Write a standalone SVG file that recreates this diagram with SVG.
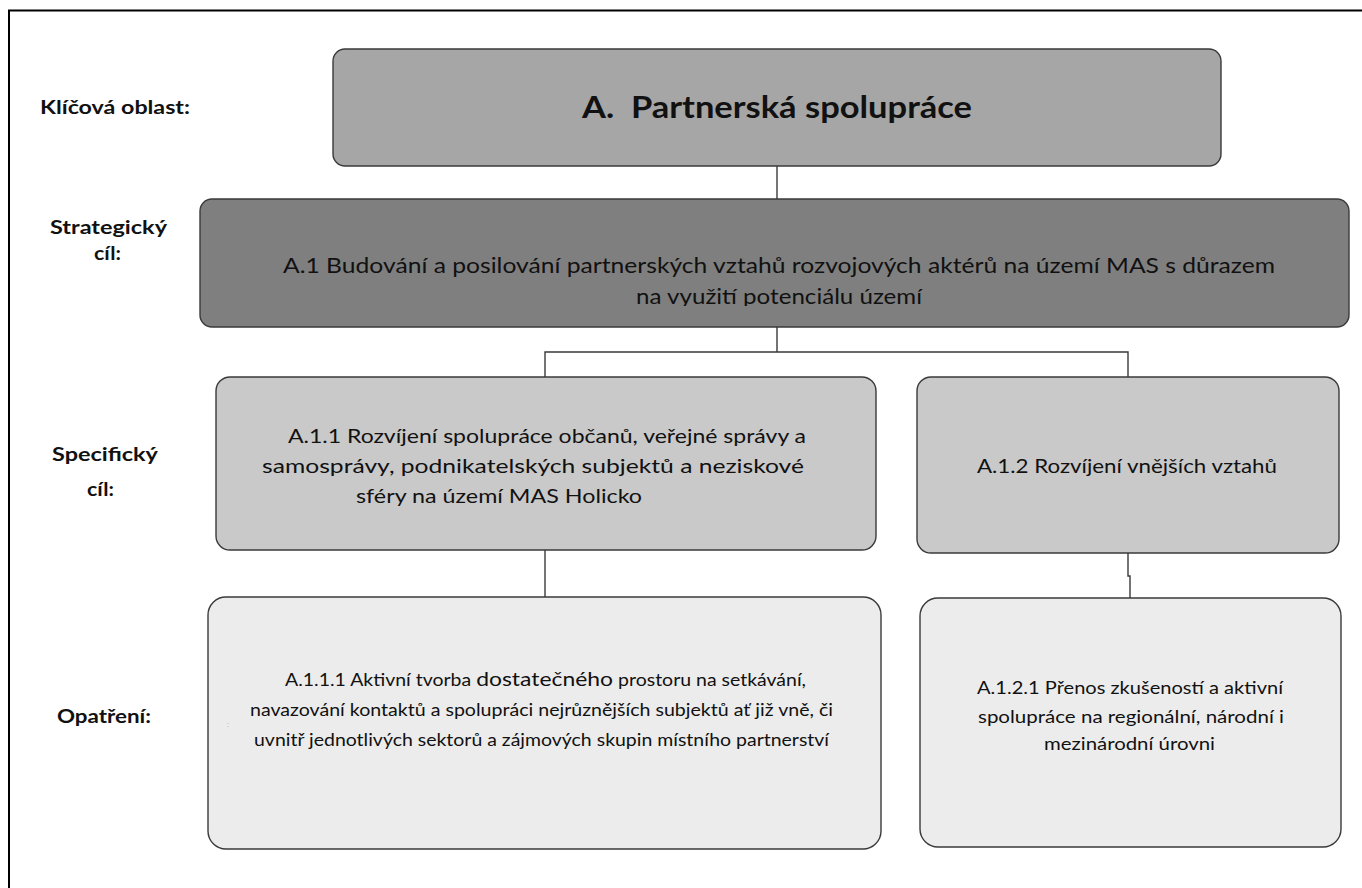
<svg xmlns="http://www.w3.org/2000/svg" width="1362" height="888" viewBox="0 0 1362 888">
<style>
.box{stroke:#3a3a3a;stroke-width:1.4}
.l1{fill:#a6a6a6}.l2{fill:#7f7f7f}.l3{fill:#c9c9c9}.l4{fill:#ececec}
text{font-family:Lato,"Open Sans","Liberation Sans",sans-serif;fill:#111}
.lab{font-weight:bold;font-size:19px}
.conn{fill:none;stroke:#3a3a3a;stroke-width:1.4}
</style>
<defs><clipPath id="clipA1"><rect x="200" y="199" width="1150" height="107"/></clipPath></defs>
<rect x="9" y="10.5" width="1400" height="1000" fill="#fff" stroke="#000" stroke-width="2"/>
<g id="labels">
<text class="lab" x="40" y="114" textLength="150" lengthAdjust="spacingAndGlyphs">Klíčová oblast:</text>
<text class="lab" x="50" y="234" textLength="117" lengthAdjust="spacingAndGlyphs">Strategický</text>
<text class="lab" x="94" y="260" textLength="27" lengthAdjust="spacingAndGlyphs">cíl:</text>
<text class="lab" x="52" y="461" textLength="106" lengthAdjust="spacingAndGlyphs">Specifický</text>
<text class="lab" x="87" y="496" textLength="27" lengthAdjust="spacingAndGlyphs">cíl:</text>
<text class="lab" x="57" y="723" textLength="94" lengthAdjust="spacingAndGlyphs">Opatření:</text>
</g>
<g id="connectors">
<path class="conn" d="M777 166V199"/>
<path class="conn" d="M777 327V352M545 377V352H1128V377"/>
<path class="conn" d="M545 550V597"/>
<path class="conn" d="M1128 553V576H1130V598"/>
</g>
<g id="nodeA">
<rect class="box l1" x="333" y="49" width="888" height="117" rx="12"/>
<text x="582" y="118" style="font-size:31px;font-weight:bold" textLength="390" lengthAdjust="spacingAndGlyphs" xml:space="preserve">A.  Partnerská spolupráce</text>
</g>
<g id="nodeA1">
<rect class="box l2" x="200" y="199" width="1149" height="128" rx="12"/>
<g clip-path="url(#clipA1)" style="font-size:22px">
<text x="283" y="273" fill="#1a1a1a" textLength="992" lengthAdjust="spacingAndGlyphs">A.1 Budování a posilování partnerských vztahů rozvojových aktérů na území MAS s důrazem</text>
<text x="636" y="304" fill="#1a1a1a" textLength="286" lengthAdjust="spacingAndGlyphs">na využití potenciálu území</text>
</g>
</g>
<g id="nodeA11">
<rect class="box l3" x="216" y="377" width="660" height="173" rx="14"/>
<g style="font-size:20px">
<text x="288" y="443" textLength="518" lengthAdjust="spacingAndGlyphs">A.1.1 Rozvíjení spolupráce občanů, veřejné správy a</text>
<text x="262" y="473" textLength="542" lengthAdjust="spacingAndGlyphs">samosprávy, podnikatelských subjektů a neziskové</text>
<text x="356" y="503" textLength="286" lengthAdjust="spacingAndGlyphs">sféry na území MAS Holicko</text>
</g>
</g>
<g id="nodeA12">
<rect class="box l3" x="917" y="377" width="422" height="176" rx="14"/>
<text x="977" y="473" style="font-size:20px" textLength="300" lengthAdjust="spacingAndGlyphs">A.1.2 Rozvíjení vnějších vztahů</text>
</g>
<g id="nodeA111">
<rect class="box l4" x="208" y="597" width="673" height="252" rx="18"/>
<g style="font-size:17px">
<text x="285" y="686" textLength="521" lengthAdjust="spacingAndGlyphs">A.1.1.1 Aktivní tvorba <tspan style="font-size:20px">dostatečného</tspan> prostoru na setkávání,</text>
<text x="250" y="716" textLength="583" lengthAdjust="spacingAndGlyphs">navazování kontaktů a spolupráci nejrůznějších subjektů ať již vně, či</text>
<text x="254" y="746" textLength="575" lengthAdjust="spacingAndGlyphs">uvnitř jednotlivých sektorů a zájmových skupin místního partnerství</text>
</g>
<text x="227" y="727" style="font-size:8px;fill:#bbb">:</text>
</g>
<g id="nodeA121">
<rect class="box l4" x="920" y="598" width="421" height="249" rx="18"/>
<g style="font-size:17px">
<text x="977" y="694" textLength="306" lengthAdjust="spacingAndGlyphs">A.1.2.1 Přenos zkušeností a aktivní</text>
<text x="978" y="723" textLength="306" lengthAdjust="spacingAndGlyphs">spolupráce na regionální, národní i</text>
<text x="1044" y="750" textLength="171" lengthAdjust="spacingAndGlyphs">mezinárodní úrovni</text>
</g>
</g>
</svg>
